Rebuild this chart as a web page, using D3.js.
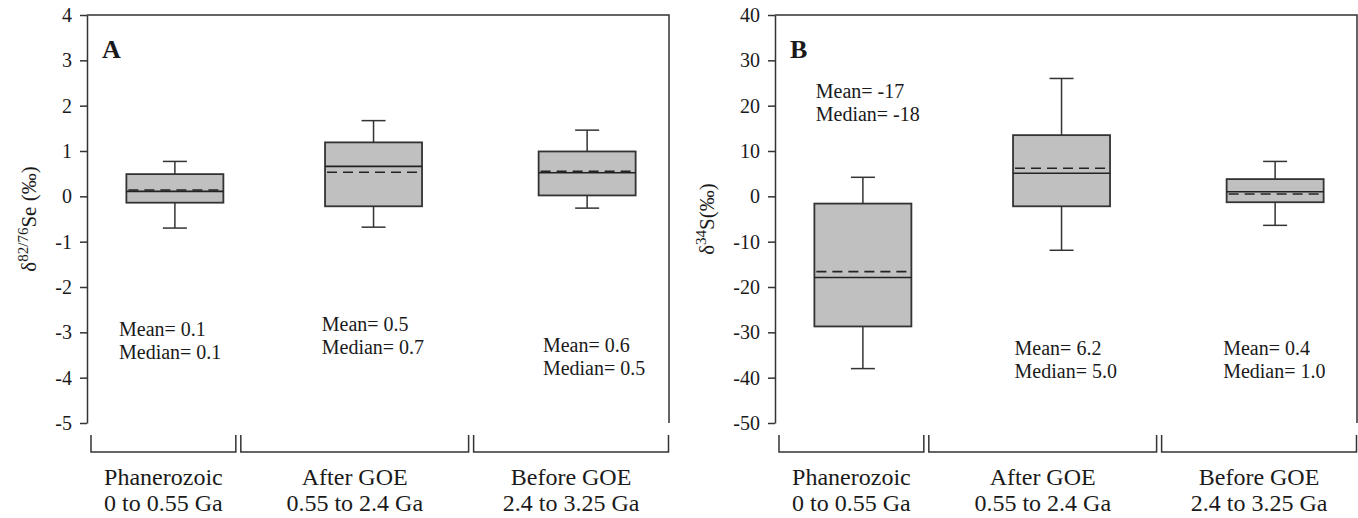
<!DOCTYPE html>
<html>
<head>
<meta charset="utf-8">
<script src="https://cdn.jsdelivr.net/npm/d3@7"></script>
<style>
  body { margin: 0; background: #fff; }
  text { font-family: "Liberation Serif", "Times New Roman", serif; fill: #1a1a1a; }
</style>
</head>
<body>
<svg id="chart" width="1358" height="518"></svg>
<script>
// Groups (x axis)
const categories = ["Phanerozoic", "After GOE", "Before GOE"];
const ageRanges = ["0 to 0.55 Ga", "0.55 to 2.4 Ga", "2.4 to 3.25 Ga"];

// Panel A: d82/76Se box stats
const seLow = [-0.7, -0.68, -0.26];
const seQ1 = [-0.14, -0.22, 0.02];
const seMedian = [0.11, 0.66, 0.52];
const seMean = [0.14, 0.53, 0.55];
const seQ3 = [0.49, 1.19, 0.99];
const seHigh = [0.77, 1.67, 1.46];
const seMeanText = ["0.1", "0.5", "0.6"];
const seMedianText = ["0.1", "0.7", "0.5"];
const seTicks = [4, 3, 2, 1, 0, -1, -2, -3, -4, -5];

// Panel B: d34S box stats
const sLow = [-38, -11.9, -6.4];
const sQ1 = [-28.7, -2.2, -1.3];
const sMedian = [-17.9, 5.1, 1.0];
const sMean = [-16.6, 6.2, 0.5];
const sQ3 = [-1.6, 13.5, 3.8];
const sHigh = [4.2, 26, 7.7];
const sMeanText = ["-17", "6.2", "0.4"];
const sMedianText = ["-18", "5.0", "1.0"];
const sTicks = [40, 30, 20, 10, 0, -10, -20, -30, -40, -50];

// layout of groups along x (in group units)
const boxPos = [0.953, 1.977, 3.078];
const groupEdges = [0.5, 1.28, 2.48, 3.5];

const svg = d3.select("#chart");
const plotTop = 15, plotBottom = 423;
const ink = "#333";

function drawPanel(opt) {
  const g = svg.append("g").attr("transform", `translate(${opt.left},0)`);
  const w = opt.width;

  const x = d3.scaleLinear().domain([0.5, 3.5]).range([0, w]);
  const y = d3.scaleLinear().domain(opt.domain).range([plotBottom, plotTop]);

  // y axis (plain hyphen for negatives, like the original)
  const axis = g.append("g")
    .call(d3.axisLeft(y).tickValues(opt.ticks).tickSize(7).tickSizeOuter(0).tickPadding(8)
      .tickFormat((d) => String(d)));
  axis.select(".domain").attr("stroke", ink).attr("stroke-width", 1.5);
  axis.selectAll(".tick line").attr("stroke", ink).attr("stroke-width", 1.5);
  axis.selectAll(".tick text")
    .style("font-family", '"Liberation Serif", serif')
    .style("font-size", "20px")
    .attr("fill", "#1a1a1a");

  // top and right frame
  g.append("path")
    .attr("d", `M0,${plotTop}H${w}V${plotBottom}`)
    .attr("fill", "none").attr("stroke", ink).attr("stroke-width", 1.5);

  // panel letter
  g.append("text").attr("x", 15).attr("y", 58)
    .style("font-size", "26px").style("font-weight", "bold").text(opt.letter);

  // y label
  const lab = svg.append("text")
    .attr("transform", `translate(${opt.labelX},${(plotTop + plotBottom) / 2}) rotate(-90)`)
    .attr("text-anchor", "middle")
    .style("font-size", "21px");
  lab.append("tspan").text("δ");
  lab.append("tspan").attr("dy", "-8").style("font-size", "15px").text(opt.sup);
  lab.append("tspan").attr("dy", "8").text(opt.unit);

  const data = categories.map((c, i) => ({
    i, low: opt.low[i], q1: opt.q1[i], med: opt.med[i], mean: opt.mean[i],
    q3: opt.q3[i], high: opt.high[i]
  }));
  const bw = x(1.5) - x(1);
  const cap = 12;

  const box = g.selectAll(".box").data(data).join("g").attr("class", "box")
    .attr("transform", (d) => `translate(${x(boxPos[d.i])},0)`);

  // whiskers
  box.append("line").attr("y1", (d) => y(d.q3)).attr("y2", (d) => y(d.high))
    .attr("stroke", ink).attr("stroke-width", 1.5);
  box.append("line").attr("y1", (d) => y(d.q1)).attr("y2", (d) => y(d.low))
    .attr("stroke", ink).attr("stroke-width", 1.5);
  box.append("line").attr("x1", -cap).attr("x2", cap)
    .attr("y1", (d) => y(d.high)).attr("y2", (d) => y(d.high))
    .attr("stroke", ink).attr("stroke-width", 1.5);
  box.append("line").attr("x1", -cap).attr("x2", cap)
    .attr("y1", (d) => y(d.low)).attr("y2", (d) => y(d.low))
    .attr("stroke", ink).attr("stroke-width", 1.5);

  // box body
  box.append("rect")
    .attr("x", -bw / 2).attr("width", bw)
    .attr("y", (d) => y(d.q3)).attr("height", (d) => y(d.q1) - y(d.q3))
    .attr("fill", "#c0c0c0").attr("stroke", ink).attr("stroke-width", 1.8);

  // median (solid) and mean (dashed)
  box.append("line").attr("x1", -bw / 2).attr("x2", bw / 2)
    .attr("y1", (d) => y(d.med)).attr("y2", (d) => y(d.med))
    .attr("stroke", "#222").attr("stroke-width", 1.6);
  box.append("line").attr("x1", -bw / 2 + 2).attr("x2", bw / 2)
    .attr("y1", (d) => y(d.mean)).attr("y2", (d) => y(d.mean))
    .attr("stroke", "#222").attr("stroke-width", 1.6).attr("stroke-dasharray", "10,6");

  // mean/median annotations
  opt.notes.forEach((n, i) => {
    const t = g.append("text").attr("x", x(n[0])).attr("y", y(n[1])).style("font-size", "20px");
    t.append("tspan").text(`Mean= ${opt.meanText[i]}`);
    t.append("tspan").attr("x", x(n[0])).attr("dy", 23).text(`Median= ${opt.medianText[i]}`);
  });

  // group brackets
  categories.forEach((c, i) => {
    const x0 = x(groupEdges[i]) + (i === 0 ? 4 : 2.5);
    const x1 = x(groupEdges[i + 1]) - (i === 2 ? 0.5 : 2.5);
    g.append("path")
      .attr("d", `M${x0},435V452H${x1}V435`)
      .attr("fill", "none").attr("stroke", ink).attr("stroke-width", 1.5);
    const cx = (x0 + x1) / 2;
    g.append("text").attr("x", cx).attr("y", 485).attr("text-anchor", "middle")
      .style("font-size", "24px").text(c);
    g.append("text").attr("x", cx).attr("y", 511).attr("text-anchor", "middle")
      .style("font-size", "24px").text(ageRanges[i]);
  });
}

drawPanel({
  left: 87, width: 582, domain: [-5, 4], ticks: seTicks, letter: "A",
  labelX: 36, sup: "82/76", unit: "Se (‰)",
  low: seLow, q1: seQ1, med: seMedian, mean: seMean, q3: seQ3, high: seHigh,
  meanText: seMeanText, medianText: seMedianText,
  notes: [[0.665, -3.09], [1.71, -2.98], [2.85, -3.44]]
});

drawPanel({
  left: 775, width: 582, domain: [-50, 40], ticks: sTicks, letter: "B",
  labelX: 714, sup: "34", unit: "S(‰)",
  low: sLow, q1: sQ1, med: sMedian, mean: sMean, q3: sQ3, high: sHigh,
  meanText: sMeanText, medianText: sMedianText,
  notes: [[0.71, 21.6], [1.735, -34.9], [2.81, -34.9]]
});
</script>
</body>
</html>
